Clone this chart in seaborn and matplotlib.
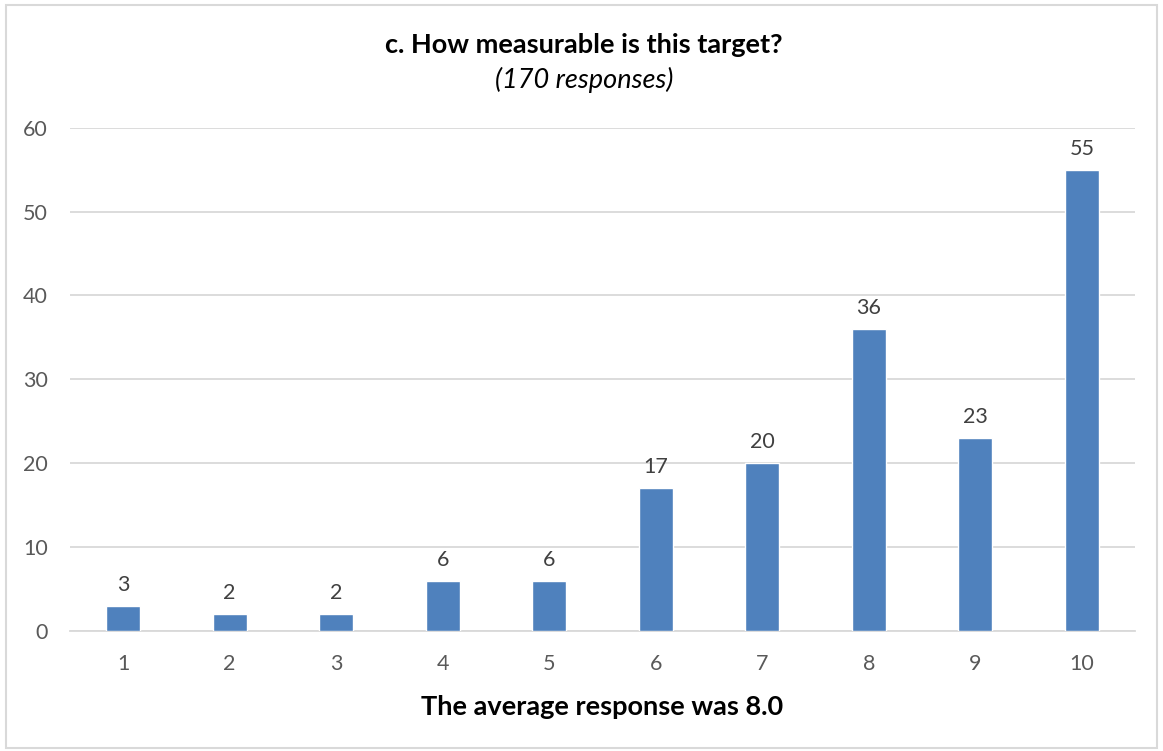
import matplotlib
matplotlib.use("Agg")
import matplotlib.pyplot as plt
import matplotlib.patches as mpatches
import seaborn as sns
import pandas as pd

#data
scores = ["1", "2", "3", "4", "5", "6", "7", "8", "9", "10"]
counts = [3, 2, 2, 6, 6, 17, 20, 36, 23, 55]
y_ticks = [0, 10, 20, 30, 40, 50, 60]

df = pd.DataFrame({"score": scores, "count": counts})

sns.set_style("white")
plt.rcParams["font.family"] = ["Lato", "DejaVu Sans"]

fig = plt.figure(figsize = (11.63, 7.51), dpi = 100)
ax = fig.add_axes([0.060, 0.160, 0.916, 0.670])

sns.barplot(x = "score", y = "count", data = df, color = "#4F81BD", width = 0.32,
	saturation = 1, errorbar = None, ax = ax, zorder = 3)

#labels above bars
for i, v in enumerate(counts):
	ax.text(i, v + 1.3, str(v), ha = "center", va = "bottom", fontsize = 15.5, color = "#404040")

ax.set_ylim(0, 60)
ax.set_xlim(-0.5, 9.5)
ax.set_yticks(y_ticks)
ax.yaxis.grid(True, color = "#D9D9D9", linewidth = 1.3, zorder = 0)
ax.set_axisbelow(True)
for s in ["top", "right", "left"]:
	ax.spines[s].set_visible(False)
ax.spines["bottom"].set_color("#D9D9D9")
ax.spines["bottom"].set_linewidth(1.3)
ax.tick_params(axis = "both", length = 0, labelsize = 15.5, labelcolor = "#595959")
ax.tick_params(axis = "y", pad = 16)
ax.tick_params(axis = "x", pad = 17)
ax.set_ylabel("")
ax.set_xlabel("The average response was 8.0", fontsize = 19.5, fontweight = "bold", color = "black", labelpad = 15)

fig.text(0.502, 0.940, "c. How measurable is this target?", ha = "center", va = "center", fontsize = 19.5, fontweight = "bold", color = "black")
fig.text(0.502, 0.893, "(170 responses)", ha = "center", va = "center", fontsize = 19.5, style = "italic", color = "black")

#chart border
fig.patches.append(mpatches.Rectangle((0.005, 0.004), 0.99, 0.99, transform = fig.transFigure,
	fill = False, edgecolor = "#D9D9D9", linewidth = 1.5))

plt.savefig("out.png", dpi = 100)
